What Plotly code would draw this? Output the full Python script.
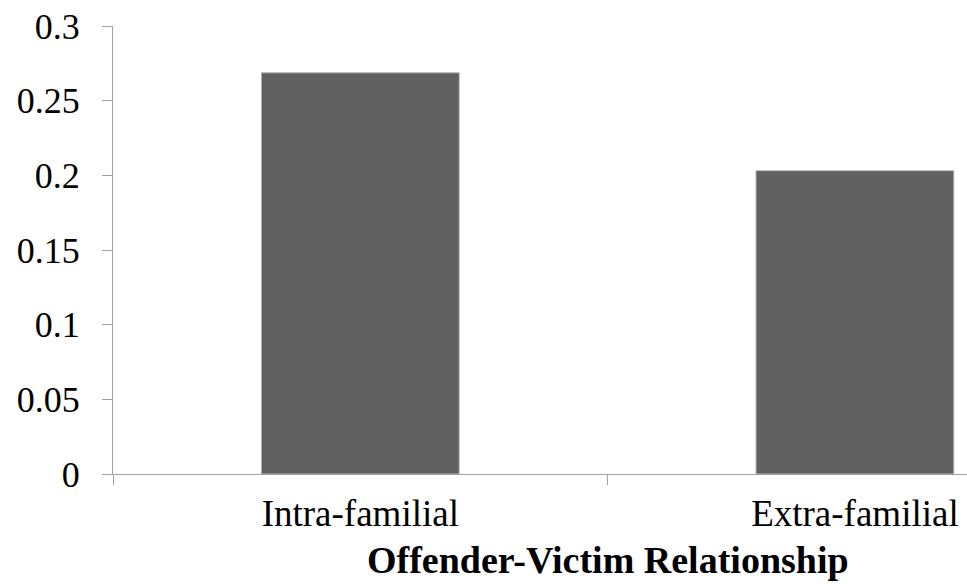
import plotly.graph_objects as go

categories = ["Intra-familial", "Extra-familial"]
values = [0.2687, 0.2031]
y_ticks = [0, 0.05, 0.1, 0.15, 0.2, 0.25, 0.3]
y_tick_labels = ["0", "0.05", "0.1", "0.15", "0.2", "0.25", "0.3"]
x_title = "Offender-Victim Relationship"

axis_color = "#a0a0a0"
font_family = "Liberation Serif, Times New Roman, serif"

fig = go.Figure(
    go.Bar(
        x=categories,
        y=values,
        width=0.4,
        marker=dict(color="#606060", line=dict(color="#b8b8b8", width=1)),
    )
)

fig.update_layout(
    width=967,
    height=584,
    margin=dict(l=113, r=0, t=26, b=110),
    paper_bgcolor="white",
    plot_bgcolor="white",
    showlegend=False,
    font=dict(family=font_family, color="black"),
)

fig.update_xaxes(
    type="category",
    range=[-0.5, 1.2266],
    tickson="boundaries",
    ticks="outside",
    ticklen=10,
    tickcolor=axis_color,
    showline=True,
    linecolor=axis_color,
    linewidth=1,
    showgrid=False,
    zeroline=False,
    tickfont=dict(size=37, family=font_family, color="black"),
    ticklabelstandoff=7,
)

fig.update_yaxes(
    range=[0, 0.3],
    tickvals=y_ticks,
    ticktext=y_tick_labels,
    ticks="outside",
    ticklen=10,
    tickcolor=axis_color,
    showline=True,
    linecolor=axis_color,
    linewidth=1,
    showgrid=False,
    zeroline=False,
    tickfont=dict(size=36, family=font_family, color="black"),
    ticklabelstandoff=15,
)

fig.add_annotation(
    text="<b>" + x_title + "</b>",
    xref="x",
    yref="paper",
    x=0.5,
    y=-0.193,
    xanchor="center",
    yanchor="middle",
    showarrow=False,
    font=dict(size=38, family=font_family, color="black"),
)

fig.write_html("out.html")
